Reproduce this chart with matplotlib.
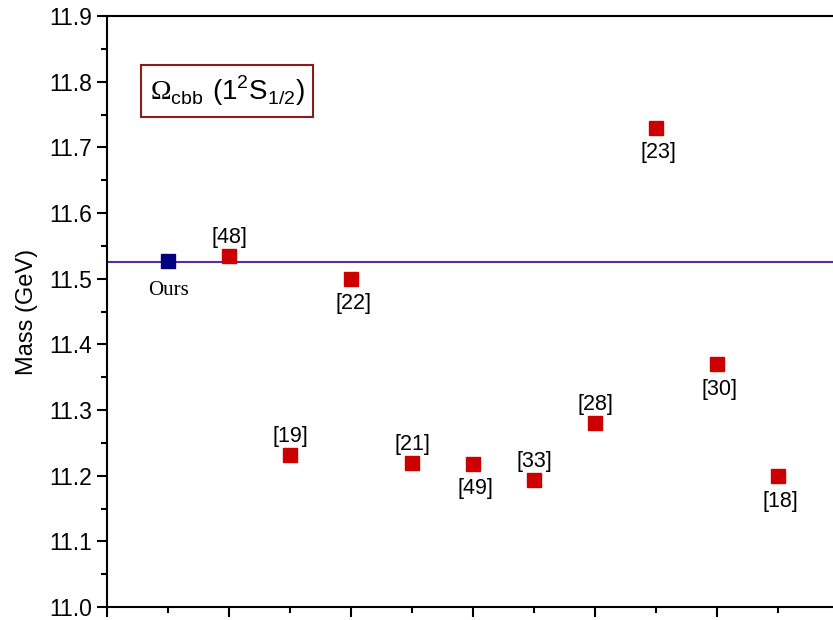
import matplotlib.pyplot as plt
from matplotlib.ticker import MultipleLocator, NullFormatter

plt.rcParams['font.family'] = ['Liberation Sans', 'DejaVu Sans']
plt.rcParams['mathtext.fontset'] = 'custom'
plt.rcParams['mathtext.rm'] = 'Liberation Sans'
plt.rcParams['mathtext.bf'] = 'Liberation Serif'

# data
refs = ['Ours', '[48]', '[19]', '[22]', '[21]', '[49]', '[33]', '[28]', '[23]', '[30]', '[18]']
xpos = [1, 2, 3, 4, 5, 6, 7, 8, 9, 10, 11]
mass = [11.527, 11.535, 11.231, 11.500, 11.220, 11.218, 11.194, 11.280, 11.730, 11.370, 11.199]
label_above = [False, True, True, False, True, False, True, True, False, False, False]
ours_line = 11.526

fig = plt.figure(figsize=(8.33, 6.2), dpi=100)
ax = fig.add_axes([0.1285, 0.021, 0.879, 0.953])

ax.axhline(ours_line, color='#5a2ca0', lw=1.5, zorder=1)

ax.plot(xpos[0], mass[0], 's', color='#000080', ms=9.5, zorder=3)
ax.plot(xpos[1:], mass[1:], 's', color='#cc0000', ms=9.5, ls='none', zorder=3)

for x, y, lab, up in zip(xpos, mass, refs, label_above):
    if lab == 'Ours':
        ax.text(x, y - 0.031, lab, ha='center', va='top', fontsize=15,
                family='Liberation Serif')
    elif up:
        ax.text(x + 0.01, y + 0.012, lab, ha='center', va='bottom', fontsize=15.5)
    else:
        ax.text(x + 0.04, y - 0.022, lab, ha='center', va='top', fontsize=15.5)

ax.text(0.7, 11.786, r'$\mathbf{\Omega}_{\mathrm{cbb}}\ (1^2\mathrm{S}_{1/2})$',
        ha='left', va='center', fontsize=20,
        bbox=dict(boxstyle='square,pad=0.3', fc='white', ec='#8b1c1c', lw=1.5))

ax.set_xlim(0, 12)
ax.set_ylim(11.0, 11.9)
ax.xaxis.set_major_locator(MultipleLocator(2))
ax.xaxis.set_minor_locator(MultipleLocator(1))
ax.xaxis.set_major_formatter(NullFormatter())
ax.yaxis.set_major_locator(MultipleLocator(0.1))
ax.yaxis.set_minor_locator(MultipleLocator(0.05))
ax.yaxis.set_major_formatter(lambda v, p: f'{v:.1f}')

for s in ['left', 'bottom', 'top']:
    ax.spines[s].set_linewidth(1.5)
ax.spines['right'].set_visible(False)
ax.tick_params(which='both', direction='out', width=1.5, top=False, right=False,
               labelsize=16.5, pad=4)
ax.tick_params(which='major', length=7)
ax.tick_params(which='minor', length=4)

ax.set_ylabel('Mass (GeV)', fontsize=17, labelpad=8)

fig.savefig('out.png', dpi=100)
